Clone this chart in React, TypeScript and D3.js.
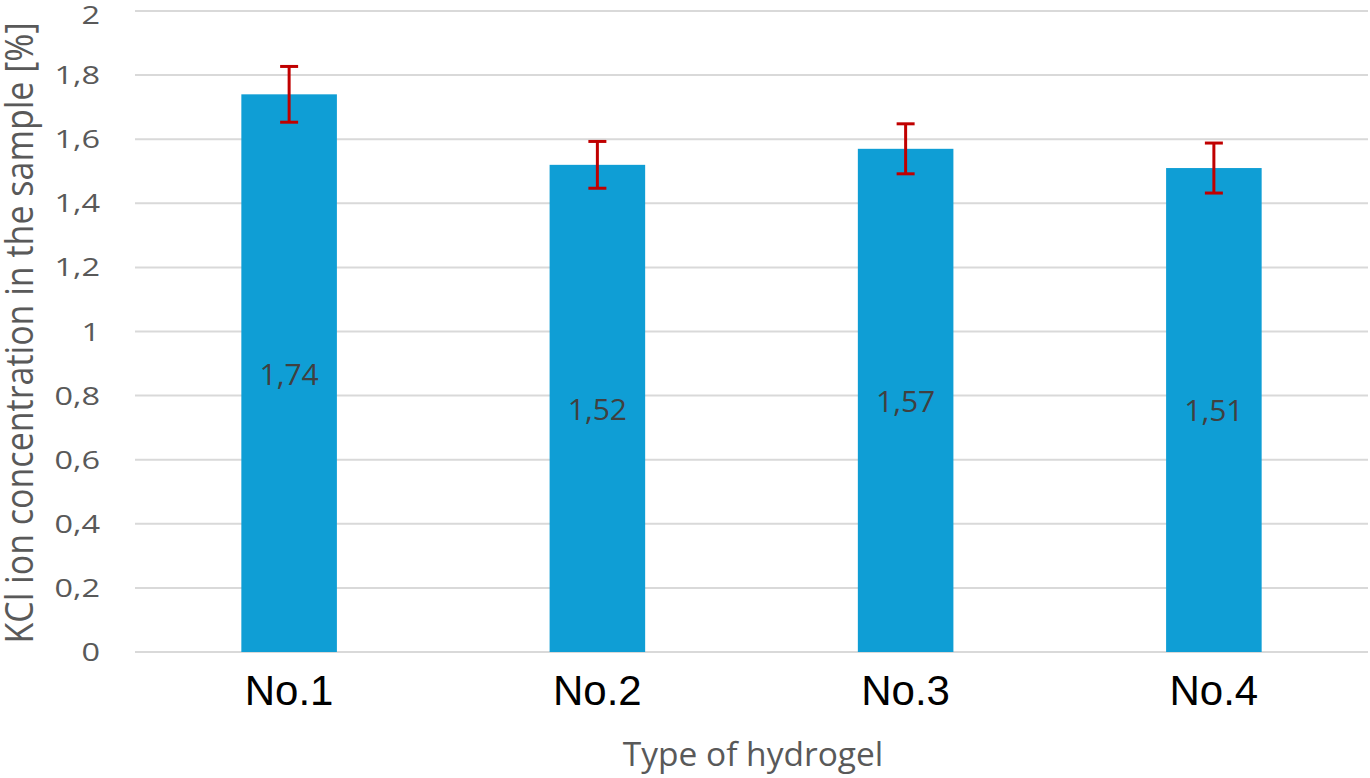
import React from "react";
import * as d3 from "d3";

const categories = ["No.1", "No.2", "No.3", "No.4"];
const values = [1.74, 1.52, 1.57, 1.51];
const errors = [0.087, 0.073, 0.078, 0.078];
const valueLabels = ["1,74", "1,52", "1,57", "1,51"];
const yTicks = [0, 0.2, 0.4, 0.6, 0.8, 1, 1.2, 1.4, 1.6, 1.8, 2];

const W = 1370;
const H = 778;
const left = 135;
const right = 1368;
const top = 11;
const bottom = 652;
const font = "'Open Sans', 'Noto Sans', sans-serif";
const catFont = "'Liberation Sans', Arial, sans-serif";

export default function App() {
  const x = d3.scaleBand<string>().domain(categories).range([left, right]).paddingInner(0.69).paddingOuter(0.345);
  const y = d3.scaleLinear().domain([0, 2]).range([bottom, top]);
  const fmt = (v: number) => (Number.isInteger(v) ? String(v) : d3.format(".1f")(v).replace(".", ","));
  const capW = 18;
  return (
    <svg width={W} height={H} style={{ position: "absolute", left: 0, top: 0, background: "#fff" }}>
      {yTicks.map((t) => (
        <g key={t}>
          <line x1={left} x2={right} y1={y(t)} y2={y(t)} stroke="#d9d9d9" strokeWidth={2} />
          <text
            transform={`translate(100,${Math.max(y(t), 15)}) scale(1.3,1)`}
            dy="0.36em"
            textAnchor="end"
            fontSize={25}
            fill="#595959"
            fontFamily={font}
          >
            {fmt(t)}
          </text>
        </g>
      ))}
      {categories.map((c, i) => {
        const bx = x(c)!;
        const bw = x.bandwidth();
        const cx = bx + bw / 2;
        return (
          <g key={c}>
            <rect x={bx} y={y(values[i])} width={bw} height={y(0) - y(values[i])} fill="#0f9ed5" />
            <text x={cx} y={y(values[i] / 2)} dy="0.38em" textAnchor="middle" fontSize={30} fill="#404040" fontFamily={font}>
              {valueLabels[i]}
            </text>
            <g stroke="#c00000" strokeWidth={3}>
              <line x1={cx} x2={cx} y1={y(values[i] + errors[i])} y2={y(values[i] - errors[i])} />
              <line x1={cx - capW / 2} x2={cx + capW / 2} y1={y(values[i] + errors[i])} y2={y(values[i] + errors[i])} />
              <line x1={cx - capW / 2} x2={cx + capW / 2} y1={y(values[i] - errors[i])} y2={y(values[i] - errors[i])} />
            </g>
            <text x={cx} y={705} textAnchor="middle" fontSize={42} fill="#000" fontFamily={catFont}>
              {c}
            </text>
          </g>
        );
      })}
      <text
        transform={`translate(33,333) rotate(-90) scale(1,1.12)`}
        textAnchor="middle"
        fontSize={34}
        fill="#595959"
        fontFamily={font}
      >
        KCl ion concentration in the sample [%]
      </text>
      <text x={753} y={766} textAnchor="middle" fontSize={33.5} fill="#595959" fontFamily={font}>
        Type of hydrogel
      </text>
    </svg>
  );
}
